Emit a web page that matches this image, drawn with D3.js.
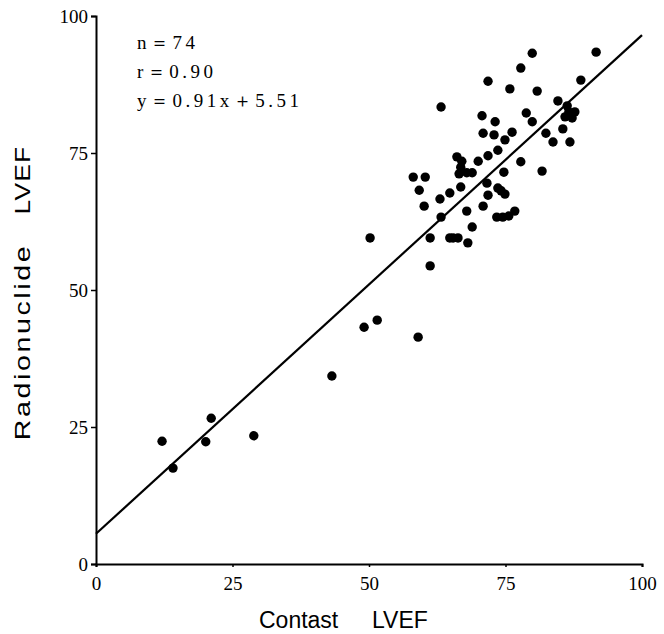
<!DOCTYPE html>
<html><head><meta charset="utf-8">
<script src="https://cdn.jsdelivr.net/npm/d3@7"></script>
<style>body{margin:0;background:#fff}</style>
</head><body>
<svg id="c" width="664" height="634"></svg>
<script>
const contrastLVEF = [12.1,14.1,20.1,21.1,28.9,43.2,49.1,51.5,50.2,59.0,61.2,61.2,64.8,66.3,68.1,68.9,67.9,70.9,73.4,63.2,60.1,58.1,60.3,59.2,63.0,64.8,66.8,66.8,66.5,67.9,68.9,67.0,70.0,71.6,73.6,74.9,71.8,74.5,75.6,76.7,74.7,77.8,81.7,79.9,91.6,77.8,71.8,75.8,80.8,88.8,63.2,70.7,73.1,78.8,79.9,84.6,86.3,87.7,85.9,87.2,86.6,85.5,86.8,82.4,83.7,70.9,72.9,76.2,74.9,73.6,71.8,66.1,65.4,74.2];
const radionuclideLVEF = [22.4,17.5,22.3,26.6,23.4,34.3,43.2,44.5,59.5,41.4,54.4,59.5,59.5,59.5,58.6,61.5,64.4,65.3,63.3,63.3,65.3,70.6,70.6,68.2,66.6,67.7,68.8,72.4,71.2,71.4,71.4,73.5,73.5,69.5,68.6,67.5,67.3,63.3,63.5,64.4,71.5,73.4,71.7,93.2,93.4,90.5,88.1,86.7,86.3,88.3,83.4,81.8,80.7,82.3,80.7,84.5,83.6,82.5,81.6,81.4,82.5,79.4,77.0,78.6,77.0,78.6,78.3,78.8,77.4,75.5,74.5,74.3,59.5,68.1];
const tickValues = [0,25,50,75,100];
const statLines = ["n\uFF1D74","r\uFF1D0.90","y\uFF1D0.91x\uFF0B5.51"];
const slope = 0.91, intercept = 5.51;

const svg = d3.select("#c");
const x = d3.scaleLinear().domain([0,100]).range([96,642]);
const y = d3.scaleLinear().domain([0,100]).range([564,16]);

// axes
const xAxis = svg.append("g").attr("transform","translate(0,564)")
  .call(d3.axisBottom(x).tickValues(tickValues).tickSize(3).tickPadding(6));
const yAxis = svg.append("g").attr("transform","translate(96,0)")
  .call(d3.axisLeft(y).tickValues(tickValues).tickSize(5).tickPadding(3));
[xAxis,yAxis].forEach(a=>{
  a.select(".domain").attr("stroke","#000").attr("stroke-width",2);
  a.selectAll(".tick line").attr("stroke","#000").attr("stroke-width",1.5);
  a.selectAll(".tick text").attr("font-family","Liberation Serif, serif").attr("font-size",19).attr("fill","#000");
});
xAxis.selectAll(".tick text").attr("dy","0.9em");
yAxis.selectAll(".tick text").attr("dy","0.35em");

// regression line
svg.append("line")
  .attr("x1",x(0)).attr("y1",y(intercept))
  .attr("x2",x(100)).attr("y2",y(slope*100+intercept))
  .attr("stroke","#000").attr("stroke-width",2.2);

// points
svg.append("g").selectAll("circle").data(contrastLVEF.map((v,i)=>[v,radionuclideLVEF[i]]))
  .join("circle").attr("cx",d=>x(d[0])).attr("cy",d=>y(d[1])).attr("r",4.7).attr("fill","#000");

// stats text
svg.append("g").selectAll("text").data(statLines).join("text")
  .attr("x",137).attr("y",(d,i)=>49+i*29)
  .attr("font-family","Liberation Serif, serif").attr("font-size",19)
  .attr("letter-spacing",3.5).attr("fill","#000").text(d=>d);

// axis titles
const sans = "Liberation Sans, Arial, sans-serif";
svg.append("text").attr("x",259).attr("y",628)
  .attr("font-family",sans).attr("font-size",23).attr("fill","#000").text("Contast");
svg.append("text").attr("x",372).attr("y",628)
  .attr("font-family",sans).attr("font-size",23).attr("fill","#000").text("LVEF");
svg.append("text").attr("transform","translate(30,342) rotate(-90) scale(1.3,1)").attr("text-anchor","middle")
  .attr("font-family",sans).attr("font-size",22).attr("letter-spacing",2).attr("fill","#000").text("Radionuclide");
svg.append("text").attr("transform","translate(30,180) rotate(-90) scale(1.2,1)").attr("text-anchor","middle")
  .attr("font-family",sans).attr("font-size",22).attr("letter-spacing",1).attr("fill","#000").text("LVEF");
</script>
</body></html>
